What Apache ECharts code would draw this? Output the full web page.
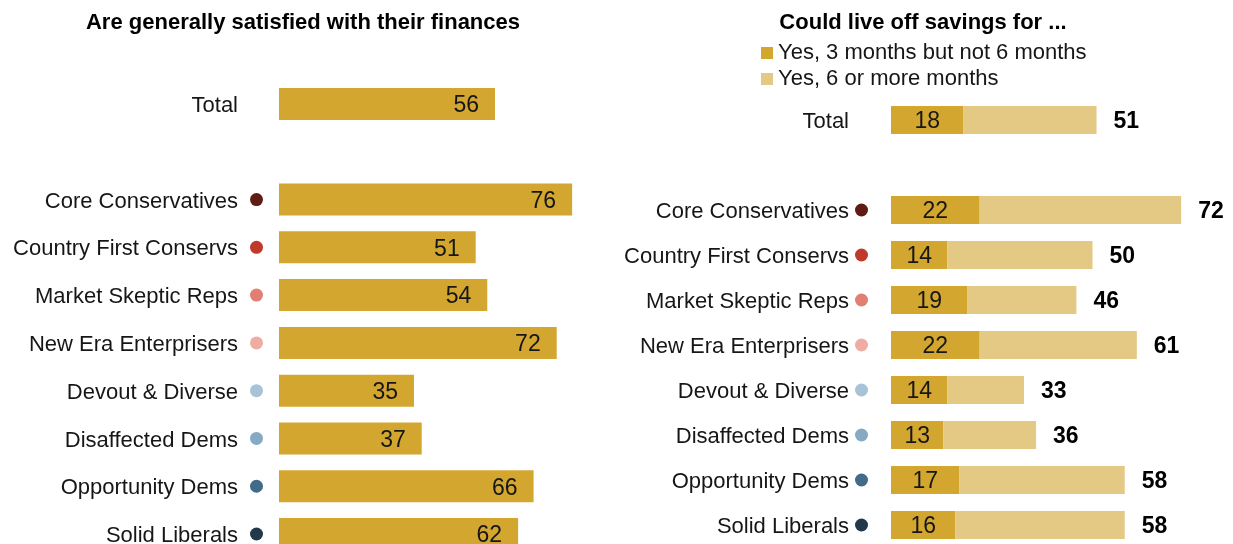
<!DOCTYPE html>
<html>
<head>
<meta charset="utf-8">
<script src="https://cdn.jsdelivr.net/npm/echarts@6/dist/echarts.min.js"></script>
<style>
html,body{margin:0;padding:0;background:#fff;}
#c{width:1233px;height:544px;}
</style>
</head>
<body>
<div id="c"></div>
<script>
// ---- data ----
const rowLabels = ['Total', 'Core Conservatives', 'Country First Conservs', 'Market Skeptic Reps', 'New Era Enterprisers', 'Devout & Diverse', 'Disaffected Dems', 'Opportunity Dems', 'Solid Liberals'];
const satisfied = [56, 76, 51, 54, 72, 35, 37, 66, 62];
const savings3to6 = [18, 22, 14, 19, 22, 14, 13, 17, 16];
const savingsAny3plus = [51, 72, 50, 46, 61, 33, 36, 58, 58];
const leftTitle = 'Are generally satisfied with their finances';
const rightTitle = 'Could live off savings for ...';
const legendNames = ['Yes, 3 months but not 6 months', 'Yes, 6 or more months'];

// ---- styles ----
const dotColors = ['#5e1c14', '#c03a2b', '#e07f72', '#eeaca3', '#a9c3d6', '#86a9c4', '#426a89', '#22394b'];
const darkGold = '#d3a62f';
const lightGold = '#e3c984';
const FONT = '"Liberation Sans", Arial, sans-serif';
const TXT = '#161616';

// insert blank spacer category after Total
const cats = [rowLabels[0], ''].concat(rowLabels.slice(1));
const withGap = arr => [arr[0], null].concat(arr.slice(1));
const satData = withGap(satisfied);
const s1Data = withGap(savings3to6);
const s2Data = withGap(savingsAny3plus.map((t, i) => t - savings3to6[i]));
const totData = withGap(savingsAny3plus);

function makeRich(spacerW) {
  const rich = {
    t: {fontSize: 22, fontFamily: FONT, color: TXT, lineHeight: 26, padding: [4, 0, 0, 0]},
    sp: {width: spacerW, height: 13},
    blank: {width: 13, height: 13}
  };
  dotColors.forEach((c, i) => {
    rich['d' + i] = {width: 13, height: 13, borderRadius: 6.5, backgroundColor: c};
  });
  return rich;
}
function labelFmt(value) {
  if (value === '') return '';
  const i = rowLabels.indexOf(value);
  if (i === 0) return '{t|' + value + '}{sp|}{blank|}';
  return '{t|' + value + '}{sp|}{d' + (i - 1) + '|}';
}

const chart = echarts.init(document.getElementById('c'), null, {renderer: 'canvas'});
const option = {
  animation: false,
  backgroundColor: '#fff',
  title: [
    {text: leftTitle, left: 298, top: 7, textAlign: 'center',
     textStyle: {fontFamily: FONT, fontSize: 22, fontWeight: 'bold', color: '#000'}},
    {text: rightTitle, left: 918, top: 7, textAlign: 'center',
     textStyle: {fontFamily: FONT, fontSize: 22, fontWeight: 'bold', color: '#000'}}
  ],
  legend: {
    data: legendNames,
    orient: 'vertical',
    left: 756, top: 35,
    itemWidth: 12, itemHeight: 12, itemGap: 0,
    icon: 'rect',
    selectedMode: false,
    textStyle: {fontFamily: FONT, fontSize: 22, color: TXT, lineHeight: 26, padding: [0, 0, 0, 0]}
  },
  grid: [
    {left: 279, top: 80.1, width: 385.7, height: 477.8, outerBoundsMode: 'none', containLabel: false},
    {left: 891, top: 97.5, width: 403, height: 450, outerBoundsMode: 'none', containLabel: false}
  ],
  xAxis: [
    {gridIndex: 0, type: 'value', min: 0, max: 100, show: false},
    {gridIndex: 1, type: 'value', min: 0, max: 100, show: false}
  ],
  yAxis: [
    {gridIndex: 0, type: 'category', data: cats, inverse: true,
     axisLine: {show: false}, axisTick: {show: false}, splitLine: {show: false},
     axisLabel: {margin: 16, formatter: labelFmt, rich: makeRich(12)}},
    {gridIndex: 1, type: 'category', data: cats, inverse: true,
     axisLine: {show: false}, axisTick: {show: false}, splitLine: {show: false},
     axisLabel: {margin: 23, formatter: labelFmt, rich: makeRich(6)}}
  ],
  series: [
    {name: 'Satisfied', type: 'bar', xAxisIndex: 0, yAxisIndex: 0, data: satData,
     barWidth: 32, itemStyle: {color: darkGold},
     label: {show: true, position: 'insideRight', distance: 16, offset: [0, 2],
       fontFamily: FONT, fontSize: 23, color: TXT}},
    {name: legendNames[0], type: 'bar', stack: 'sav', xAxisIndex: 1, yAxisIndex: 1, data: s1Data,
     barWidth: 28, itemStyle: {color: darkGold},
     label: {show: true, position: 'inside', offset: [0, 2], fontFamily: FONT, fontSize: 23, color: TXT}},
    {name: legendNames[1], type: 'bar', stack: 'sav', xAxisIndex: 1, yAxisIndex: 1, data: s2Data,
     barWidth: 28, itemStyle: {color: lightGold},
     label: {show: true, position: 'right', distance: 17, offset: [0, 2],
       formatter: p => totData[p.dataIndex],
       fontFamily: FONT, fontSize: 23, fontWeight: 'bold', color: '#000'}}
  ]
};
chart.setOption(option);
</script>
</body>
</html>
